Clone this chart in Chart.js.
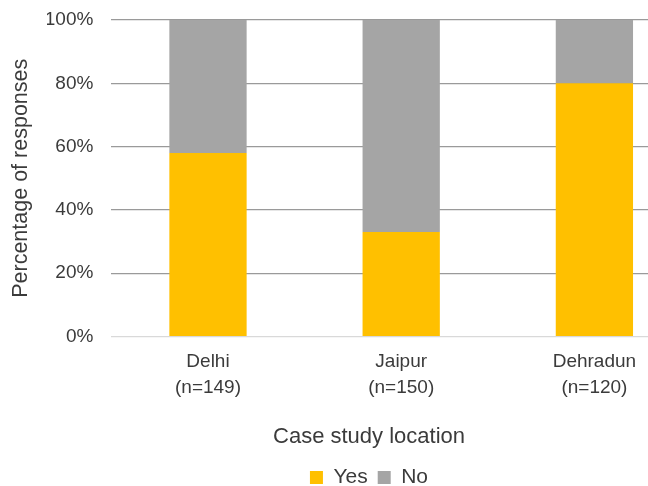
<!DOCTYPE html>
<html>
<head>
<meta charset="utf-8">
<script src="https://cdn.jsdelivr.net/npm/chart.js@4/dist/chart.umd.min.js"></script>
<style>
  html, body { margin: 0; padding: 0; overflow: hidden; background: #fff; }
  canvas { display: block; }
</style>
</head>
<body>
<canvas id="responses" width="734" height="498"></canvas>
<script>
const locations = [['Delhi', '(n=149)'], ['Jaipur', '(n=150)'], ['Dehradun', '(n=120)']];
const yesValues = [58, 33, 80];
const noValues = [42, 67, 20];
const yTicks = [0, 20, 40, 60, 80, 100];

const textColor = '#3b3b3b';
const fontFamily = '"Liberation Sans", Arial, sans-serif';

const ctxResponses = document.getElementById('responses').getContext('2d');

// the original figure is cropped on the right, so the canvas is wider than the page
// and the left padding keeps the legend / axis title centred like the reference
const responses = new Chart(ctxResponses, {
    type: 'bar',
    data: {
        labels: locations,
        datasets: [{
            label: 'Yes',
            data: yesValues,
            backgroundColor: '#FFC000',
            barPercentage: 0.4,
            categoryPercentage: 1
        },
        {
            label: 'No',
            data: noValues,
            backgroundColor: '#A5A5A5',
            barPercentage: 0.4,
            categoryPercentage: 1
        }]
    },
    options: {
        responsive: false,
        animation: false,
        layout: {
            padding: { top: 20, right: 43, left: 47, bottom: 0 }
        },
        scales: {
            x: {
                stacked: true,
                grid: { display: false, drawTicks: false },
                border: { display: false },
                ticks: {
                    color: textColor,
                    padding: 12,
                    font: { family: fontFamily, size: 19, lineHeight: 1.37 }
                }
            },
            y: {
                stacked: true,
                min: 0,
                max: 100,
                afterBuildTicks: axis => {
                    axis.ticks = yTicks.map(v => ({ value: v }));
                },
                afterFit: axis => {
                    // tick padding would otherwise push the top gridline down
                    axis.paddingTop = 0;
                },
                grid: {
                    drawTicks: false,
                    color: c => c.tick && c.tick.value === 0 ? '#d9d9d9' : '#9a9a9a',
                    lineWidth: 1.3
                },
                border: { display: false },
                ticks: {
                    color: textColor,
                    padding: 18,
                    font: { family: fontFamily, size: 19 },
                    callback: v => v + '%'
                },
                title: {
                    display: true,
                    text: 'Percentage of responses',
                    color: textColor,
                    padding: { top: -39, bottom: -7 },
                    font: { family: fontFamily, size: 21.5 }
                }
            }
        },
        plugins: {
            title: {
                display: true,
                position: 'bottom',
                weight: 500,
                text: 'Case study location',
                color: textColor,
                padding: { top: 11, bottom: 7 },
                font: { family: fontFamily, size: 22, weight: 'normal' }
            },
            legend: {
                position: 'bottom',
                labels: {
                    color: textColor,
                    boxWidth: 13,
                    boxHeight: 13,
                    padding: 10,
                    font: { family: fontFamily, size: 21 }
                }
            },
            tooltip: { enabled: false }
        }
    }
});
</script>
</body>
</html>
